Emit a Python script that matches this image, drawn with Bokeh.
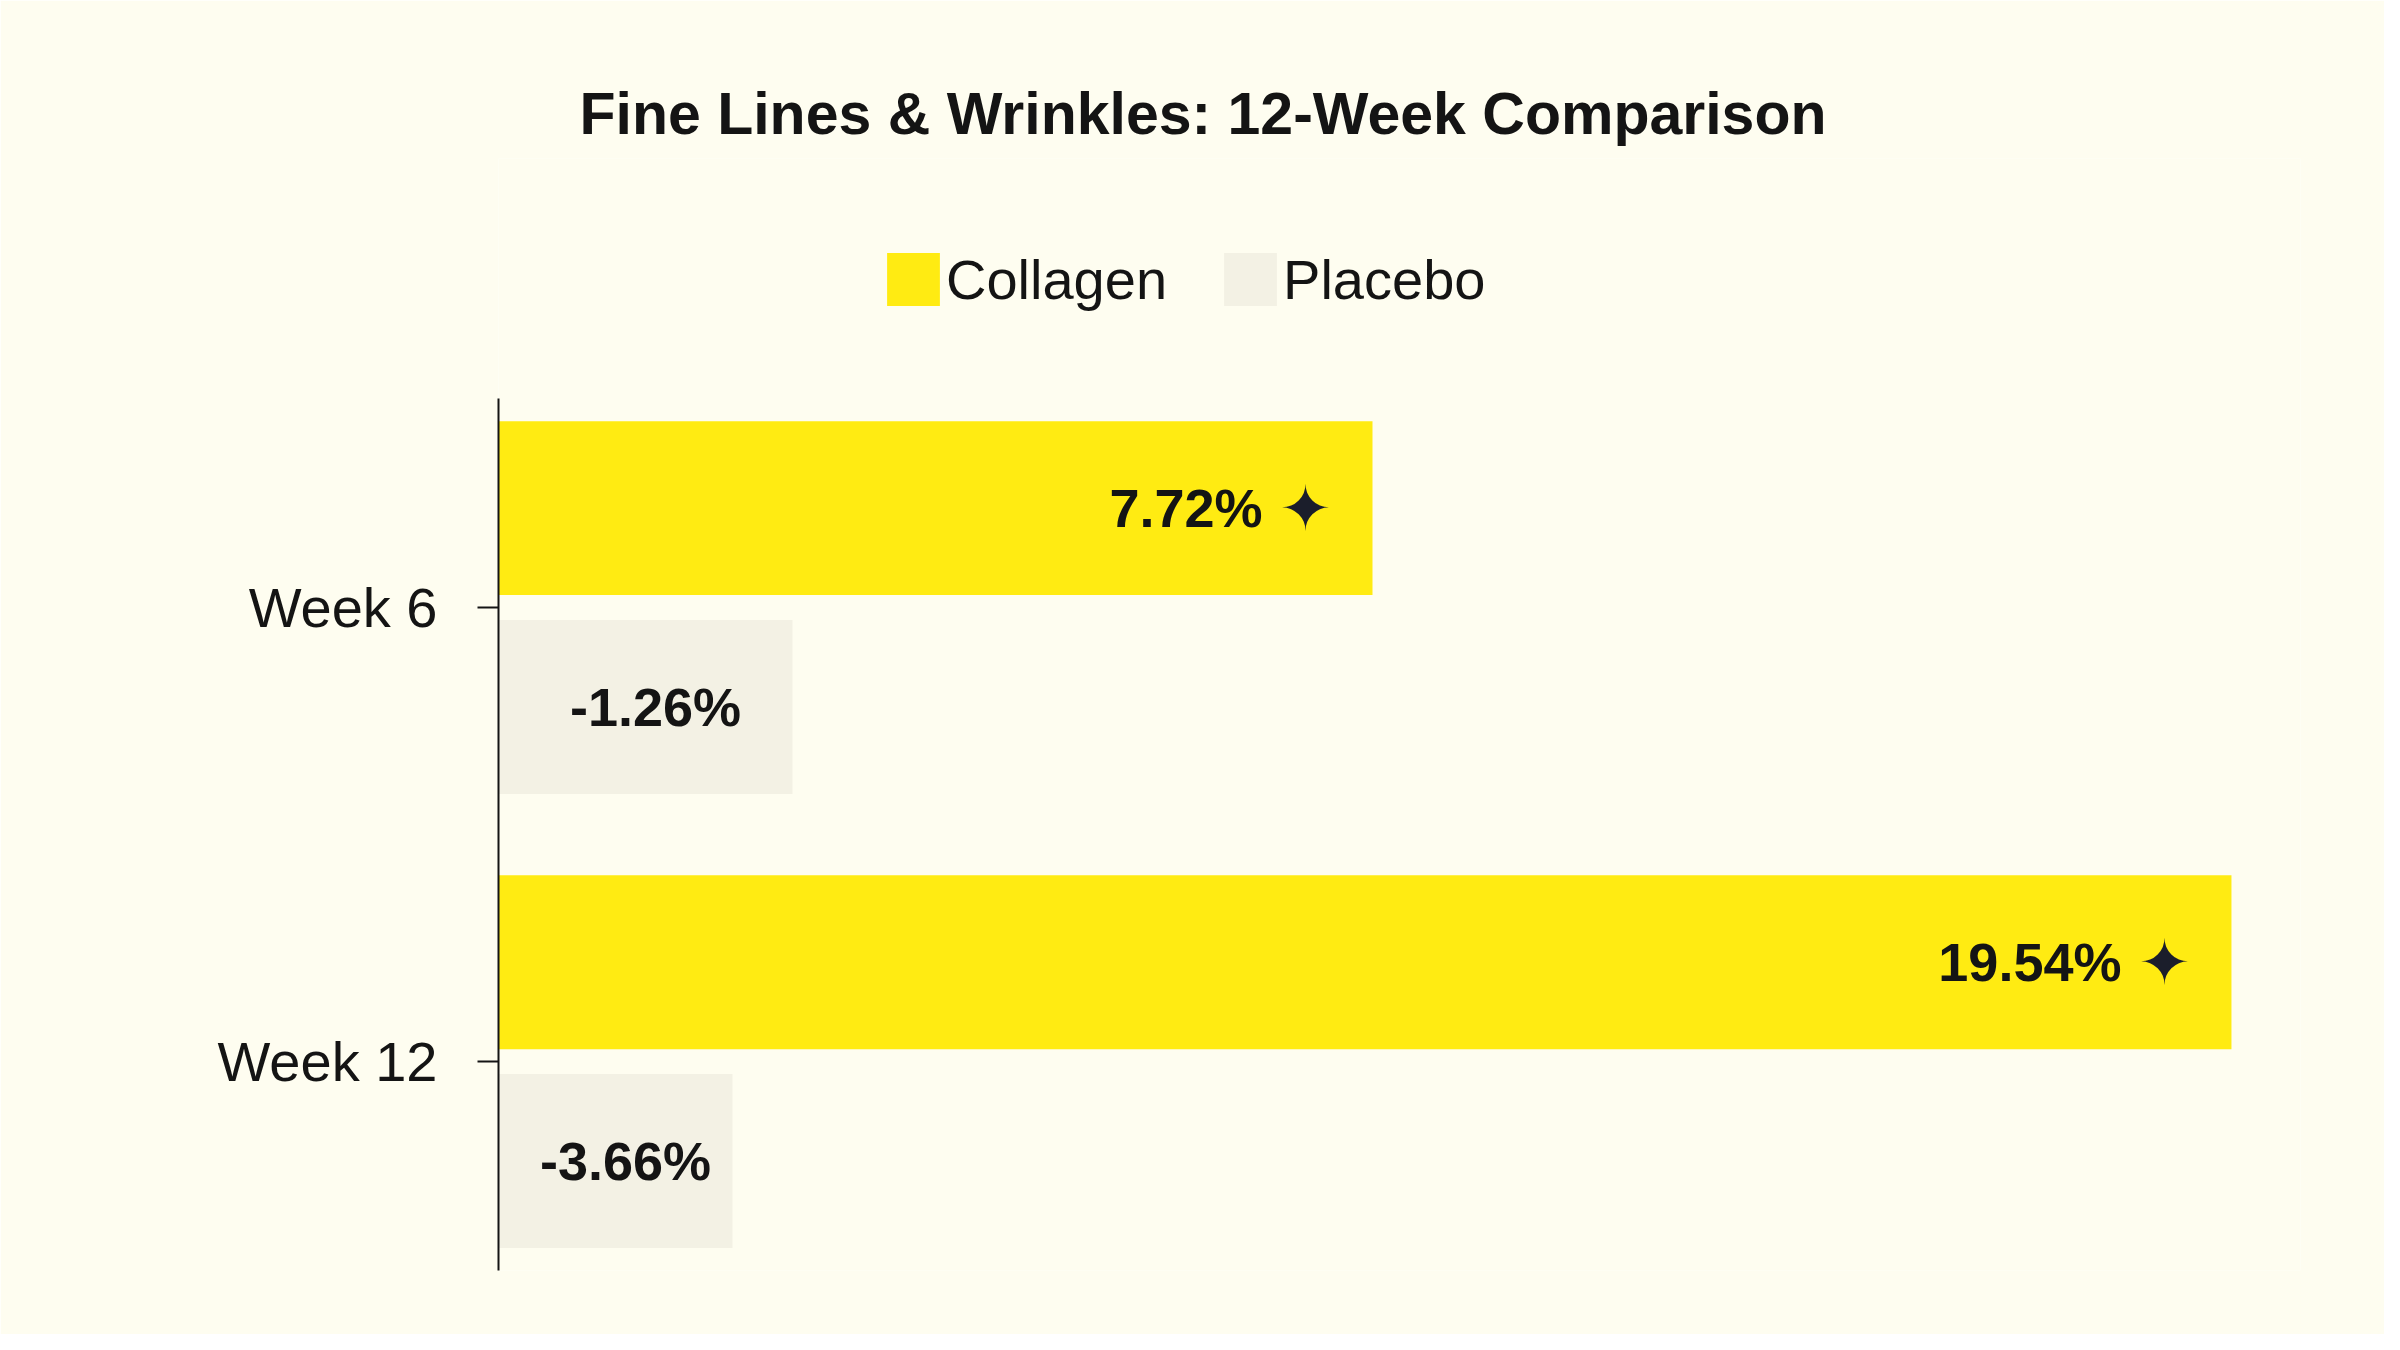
from bokeh.plotting import figure
from bokeh.models import Range1d, ColumnDataSource, Legend, LegendItem, FixedTicker
from bokeh.core.properties import value
from bokeh.embed import file_html
from bokeh.resources import INLINE

# ---- data ----
weeks = ["Week 6", "Week 12"]
collagen = [7.72, 19.54]
placebo = [-1.26, -3.66]
collagen_labels = ["7.72%", "19.54%"]
placebo_labels = ["-1.26%", "-3.66%"]
series = ["Collagen", "Placebo"]
title_text = "Fine Lines & Wrinkles: 12-Week Comparison"

# ---- style ----
BG = "#FEFDF0"
YELLOW = "#FFEB12"
BEIGE = "#F3F1E4"
INK = "#141414"
STAR = "#1B1E2B"
FONT = "Liberation Sans"

idx = list(range(len(weeks)))
coll_range = Range1d(-4.307, 20.49)
plac_range = Range1d(-13.02, 59.06)
y_lo, y_hi = -0.46, 1.46          # extent of the category axis
y_top = -0.989                    # frame extends upward to hold the legend

p = figure(width=2384, height=1334, output_backend="svg", toolbar_location=None,
           x_range=coll_range, y_range=Range1d(y_hi, y_top),
           x_axis_location=None, min_border_left=498, min_border_right=84,
           min_border_top=158, min_border_bottom=64,
           background_fill_color=BG, border_fill_color=BG, outline_line_color=None)
p.extra_x_ranges = {"placebo": plac_range}
p.grid.visible = False

off = 0.219
bh = 0.383
src_c = ColumnDataSource(dict(y=[i - off for i in idx], right=collagen,
                              left=[coll_range.start] * len(idx), lab=collagen_labels,
                              star=["\u2726"] * len(idx)))
src_p = ColumnDataSource(dict(y=[i + off for i in idx], right=placebo,
                              left=[plac_range.start] * len(idx), lab=placebo_labels,
                              mid=[(plac_range.start + v) / 2 for v in placebo]))

rc = p.hbar(y="y", left="left", right="right", height=bh, source=src_c,
            fill_color=YELLOW, line_color=None)
rp = p.hbar(y="y", left="left", right="right", height=bh, source=src_p,
            fill_color=BEIGE, line_color=None, x_range_name="placebo")

p.text(x="right", y="y", text="lab", source=src_c, text_align="right",
       text_baseline="middle", x_offset=-110, text_font=value(FONT),
       text_font_style="bold", text_font_size="54px", text_color=INK)
p.text(x="right", y="y", text="star", source=src_c, text_align="center",
       text_baseline="middle", x_offset=-67, text_font=value("DejaVu Sans"),
       text_font_size="62px", text_color=STAR)
p.text(x="mid", y="y", text="lab", source=src_p, text_align="center",
       text_baseline="middle", x_offset=10, x_range_name="placebo", text_font=value(FONT),
       text_font_style="bold", text_font_size="54px", text_color=INK)

ax = p.yaxis[0]
ax.bounds = (y_lo, y_hi)
ax.ticker = FixedTicker(ticks=idx)
ax.major_label_overrides = {i: w for i, w in zip(idx, weeks)}
ax.minor_tick_line_color = None
ax.major_tick_in = 0
ax.major_tick_out = 21
ax.major_tick_line_width = 2
ax.major_tick_line_color = INK
ax.axis_line_width = 2
ax.axis_line_color = INK
ax.major_label_standoff = 40
ax.major_label_text_font = FONT
ax.major_label_text_font_size = "56px"
ax.major_label_text_color = INK

legend = Legend(items=[LegendItem(label=series[0], renderers=[rc]),
                       LegendItem(label=series[1], renderers=[rp])],
                orientation="horizontal", location=(382, 958),
                glyph_width=66, glyph_height=66, label_standoff=0, spacing=50,
                label_text_font=FONT, label_text_font_size="56px", label_text_color=INK,
                padding=0, margin=0, border_line_alpha=0, background_fill_alpha=0)
p.add_layout(legend, "center")

p.title.text = title_text
p.title.text_font = FONT
p.title.text_font_size = "59px"
p.title.text_font_style = "bold"
p.title.text_color = INK
p.title.align = "left"
p.title.offset = 81
p.title.standoff = 23

open("out.html", "w").write(file_html(p, INLINE))
